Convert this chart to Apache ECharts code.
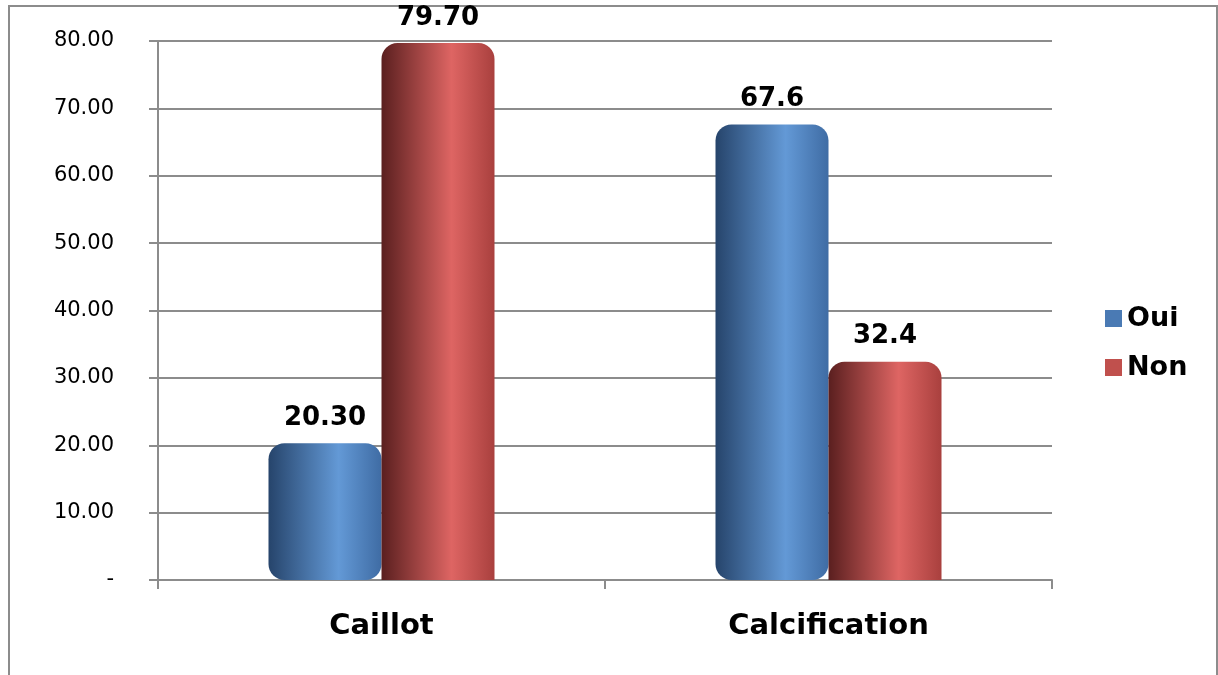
<!DOCTYPE html>
<html>
<head>
<meta charset="utf-8">
<script src="https://cdn.jsdelivr.net/npm/echarts@6/dist/echarts.min.js"></script>
<style>
  html, body { margin: 0; padding: 0; background: #fff; }
  #chart { width: 1218px; height: 675px; }
</style>
</head>
<body>
<div id="chart"></div>
<script>
  // data
  var categories = ['Caillot', 'Calcification']
  var seriesNames = ['Oui', 'Non']
  var ouiValues = [20.3, 67.6]
  var nonValues = [79.7, 32.4]
  var ouiLabels = ['20.30', '67.6']
  var nonLabels = ['79.70', '32.4']

  var chart = echarts.init(document.getElementById('chart'))

  function cylinder(dark, light, side) {
    return new echarts.graphic.LinearGradient(0, 0, 1, 0, [
      { offset: 0, color: dark },
      { offset: 0.62, color: light },
      { offset: 1, color: side }
    ])
  }

  var labelStyle = {
    show: true,
    position: 'top',
    distance: 12,
    color: '#000',
    fontFamily: 'DejaVu Sans',
    fontWeight: 'bold',
    fontSize: 26
  }

  chart.setOption({
    animation: false,
    textStyle: { fontFamily: 'DejaVu Sans' },
    graphic: [
      {
        type: 'rect',
        shape: { x: 9, y: 6, width: 1208, height: 700 },
        style: { fill: 'none', stroke: '#8c8c8c', lineWidth: 2 },
        z: -1
      }
    ],
    legend: {
      data: [
        { name: seriesNames[0], itemStyle: { color: '#4a7ab4' } },
        { name: seriesNames[1], itemStyle: { color: '#c0504d' } }
      ],
      orient: 'vertical',
      left: 1100,
      top: 300,
      icon: 'rect',
      itemWidth: 17,
      itemHeight: 17,
      itemGap: 22,
      textStyle: {
        color: '#000',
        fontFamily: 'DejaVu Sans',
        fontWeight: 'bold',
        fontSize: 27
      }
    },
    grid: {
      left: 158,
      right: 166,
      top: 41,
      bottom: 95
    },
    xAxis: {
      type: 'category',
      data: categories,
      axisLine: { lineStyle: { color: '#8c8c8c', width: 2 } },
      axisTick: { show: true, length: 9, lineStyle: { color: '#8c8c8c', width: 2 } },
      axisLabel: {
        margin: 32,
        color: '#000',
        fontFamily: 'DejaVu Sans',
        fontWeight: 'bold',
        fontSize: 29
      }
    },
    yAxis: {
      type: 'value',
      min: 0,
      max: 80,
      interval: 10,
      axisLine: { show: true, lineStyle: { color: '#8c8c8c', width: 2 } },
      axisTick: { show: true, length: 9, lineStyle: { color: '#8c8c8c', width: 2 } },
      splitLine: { lineStyle: { color: '#8c8c8c', width: 2 } },
      axisLabel: {
        margin: 44,
        color: '#000',
        fontFamily: 'DejaVu Sans',
        fontSize: 21,
        formatter: function (v) {
          return v === 0 ? '-' : v.toFixed(2)
        }
      }
    },
    series: [
      {
        name: 'Oui',
        type: 'bar',
        barWidth: 113,
        barGap: '0%',
        itemStyle: {
          color: cylinder('#26446b', '#6399d6', '#3f6ca4'),
          borderRadius: [16, 16, 16, 16]
        },
        label: Object.assign({}, labelStyle, {
          formatter: function (p) { return ouiLabels[p.dataIndex] }
        }),
        data: ouiValues
      },
      {
        name: 'Non',
        type: 'bar',
        barWidth: 113,
        itemStyle: {
          color: cylinder('#5a1f1f', '#de6563', '#a9403e'),
          borderRadius: [16, 16, 0, 0]
        },
        label: Object.assign({}, labelStyle, {
          formatter: function (p) { return nonLabels[p.dataIndex] }
        }),
        data: nonValues
      }
    ]
  })
</script>
</body>
</html>
